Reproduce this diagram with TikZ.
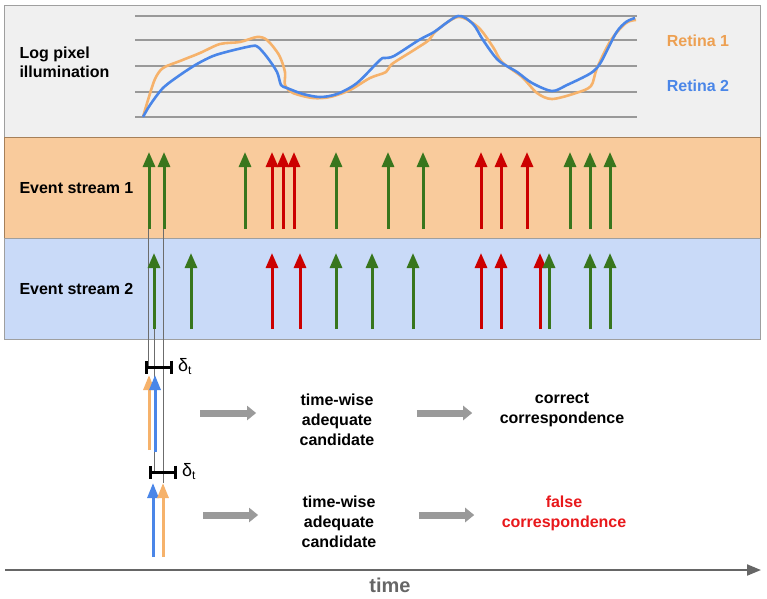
\documentclass[tikz,border=0pt]{standalone}
\usepackage{fontspec}
\setmainfont{Liberation Sans}
\usetikzlibrary{arrows.meta, positioning, calc}

\definecolor{panelgray}{HTML}{F0F0F0}
\definecolor{panelorange}{HTML}{F9CB9C}
\definecolor{panelblue}{HTML}{C9DAF8}
\definecolor{retinaorange}{HTML}{F6B26B}
\definecolor{retinatext}{HTML}{EDA052}
\definecolor{retinablue}{HTML}{4A86E8}
\definecolor{evgreen}{HTML}{38761D}
\definecolor{evred}{HTML}{CC0000}
\definecolor{falsered}{HTML}{E8181B}
\definecolor{axisgray}{HTML}{666666}
\definecolor{blockgray}{HTML}{9A9A9A}

\begin{document}
\begin{tikzpicture}[
        x=1pt, y=-1pt,
        font=\fontsize{16}{20}\selectfont\bfseries,
        % Define a uniform style for the three bands
        panel/.style={
            rectangle,
            draw=gray!75,
            line width=1pt,
            anchor=north west,
            minimum width=756pt,
            inner sep=0pt
        },
        rowlabel/.style={anchor=west, align=left, font=\fontsize{16}{19}\selectfont\bfseries},
        gridline/.style={draw=gray!80, line width=1.3pt},
        retina/.style={line width=2.6pt, line join=round},
        event/.style={line width=3pt, -{Triangle[length=15pt,width=12pt]}},
        candarrow/.style={line width=3pt, -{Triangle[length=15pt,width=11pt]}},
        guide/.style={draw=gray!85!black, line width=0.8pt},
        dtbar/.style={line width=3pt, {Bar[width=13pt]}-{Bar[width=13pt]}},
        dtlabel/.style={font=\fontsize{18}{18}\selectfont, inner sep=0pt},
        textblock/.style={align=center},
        blockarrow/.style={
            line width=7pt,
            draw=blockgray,
            -{Triangle[length=9pt,width=14pt]}
        },
        timeaxis/.style={
            line width=2pt,
            draw=axisgray,
            -{Triangle[length=14pt,width=11pt]}
        }
    ]

    \useasboundingbox (0,0) rectangle (767,598);

    % Draw the bands
    \node (illum) [panel, fill=panelgray, minimum height=132pt] at (4,5) {};
    \node (stream1) [panel, fill=panelorange, draw=brown!60!gray, minimum height=101pt] at (4,137) {};
    \node (stream2) [panel, fill=panelblue, minimum height=101pt] at (4,238) {};

    \node (illumlabel) [rowlabel] at (16,62) {Log pixel\\illumination};
    \node (stream1label) [rowlabel] at (16,188) {Event stream 1};
    \node (stream2label) [rowlabel] at (16,289) {Event stream 2};

    % Grid and the two retina curves
    \foreach \y in {16,40,66,92,117}
        \draw[gridline] (135,\y) -- (637,\y);

    \draw[retina, retinaorange] plot[smooth, tension=0.5] coordinates {
        (143,117) (148,100) (155,79) (163,68) (180,61) (200,53) (220,44)
        (240,42) (257,37) (267,40) (279,55) (285,72) (285,85) (293,93)
        (313,98) (330,97) (350,90) (370,78) (386,72) (392,64) (414,50)
        (429,40) (436,31) (458,17) (478,27) (493,47) (502,62) (522,77)
        (537,93) (552,99) (576,93) (591,86) (597,68) (611,40) (626,23) (636,20)};
    \draw[retina, retinablue] plot[smooth, tension=0.5] coordinates {
        (143,117) (150,105) (163,88) (180,75) (197,64) (213,56) (230,51)
        (252,46) (258,47) (267,57) (277,72) (281,85) (287,88) (303,94)
        (320,97) (337,94) (357,83) (380,60) (385,58) (394,56) (419,40)
        (434,32) (458,16) (473,24) (483,40) (498,60) (517,72) (532,83)
        (552,91) (567,85) (591,73) (601,62) (616,33) (626,22) (635,18)};

    \node (retina1) [text=retinatext] at (698,41) {Retina 1};
    \node (retina2) [text=retinablue] at (698,86) {Retina 2};

    % Guides from the first events down to the examples
    \draw[guide] (148.5,229) -- (148.5,367);
    \draw[guide] (154,329) -- (154,472);
    \draw[guide] (163.5,229) -- (163.5,483);

    % Events of both streams
    \foreach \x/\c in {149/evgreen,164/evgreen,245/evgreen,272/evred,283/evred,294/evred,
            336/evgreen,388/evgreen,423/evgreen,481/evred,501/evred,527/evred,
            570/evgreen,590/evgreen,610/evgreen}
        \draw[event, \c] (\x,229) -- (\x,152);
    \foreach \x/\c in {154/evgreen,191/evgreen,272/evred,300/evred,336/evgreen,
            372/evgreen,413/evgreen,481/evred,501/evred,540/evred,549/evgreen,
            590/evgreen,610/evgreen}
        \draw[event, \c] (\x,329) -- (\x,253);

    % First example: correct pair
    \coordinate (bar1l) at (145,367);
    \coordinate (bar1r) at (173,367);
    \draw[dtbar] (bar1l) -- (bar1r);
    \node (dt1) [dtlabel, right=5pt of bar1r] {δ{\fontsize{12}{12}\selectfont\raisebox{-3pt}{t}}};
    \draw[candarrow, retinaorange] (149,450) -- (149,375);
    \draw[candarrow, retinablue] (155,452) -- (155,375);

    % Second example: false pair
    \coordinate (bar2l) at (149,472);
    \coordinate (bar2r) at (177,472);
    \draw[dtbar] (bar2l) -- (bar2r);
    \node (dt2) [dtlabel, right=5pt of bar2r] {δ{\fontsize{12}{12}\selectfont\raisebox{-3pt}{t}}};
    \draw[candarrow, retinablue] (153,557) -- (153,483);
    \draw[candarrow, retinaorange] (163,557) -- (163,483);

    % Outcome texts
    \node (cand1) [textblock] at (337,420) {time-wise\\adequate\\candidate};
    \node (corr1) [textblock] at (562,410) {correct\\correspondence};
    \node (cand2) [textblock] at (339,522) {time-wise\\adequate\\candidate};
    \node (corr2) [textblock, text=falsered] at (564,513) {false\\correspondence};

    % Draw the connecting arrows
    \coordinate (case1) at (200,413);
    \coordinate (case2) at (203,515);
    \draw[blockarrow, shorten >=40pt] (case1) -- (case1 -| cand1.west);
    \draw[blockarrow, shorten <=39pt, shorten >=24pt] (cand1.east |- case1) -- (corr1.west |- case1);
    \draw[blockarrow, shorten >=40pt] (case2) -- (case2 -| cand2.west);
    \draw[blockarrow, shorten <=39pt, shorten >=24pt] (cand2.east |- case2) -- (corr2.west |- case2);

    % Time axis
    \coordinate (tstart) at (5,570);
    \coordinate (tend) at (761,570);
    \draw[timeaxis] (tstart) -- (tend);
    \node (timelabel) [text=axisgray, font=\fontsize{20}{20}\selectfont\bfseries] at (390,585) {time};

\end{tikzpicture}
\end{document}
